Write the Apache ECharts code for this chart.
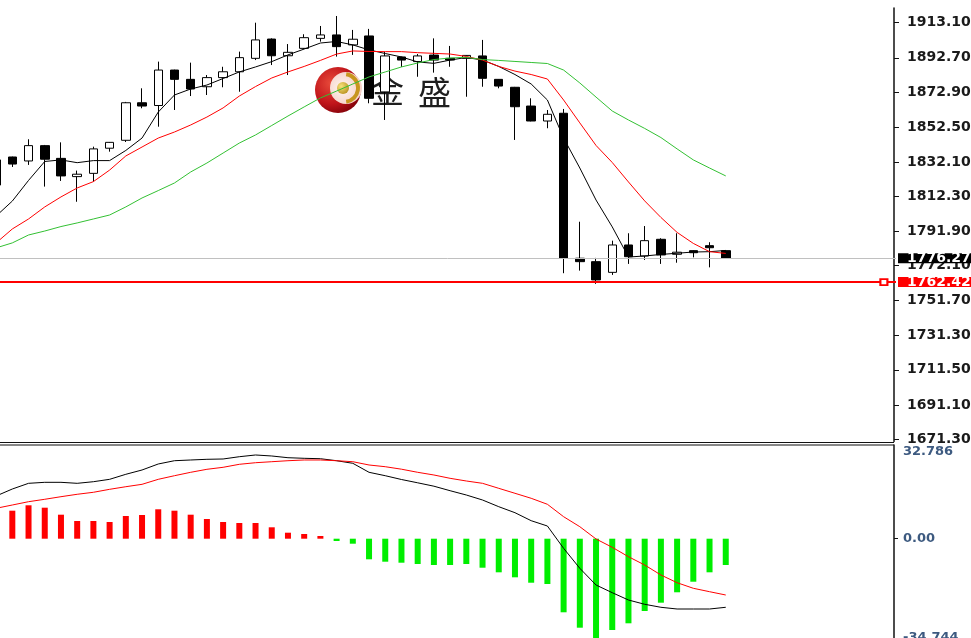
<!DOCTYPE html>
<html><head><meta charset="utf-8">
<script src="https://cdn.jsdelivr.net/npm/echarts@6/dist/echarts.min.js"></script>
<style>html,body{margin:0;padding:0;background:#fff}#c{width:971px;height:638px}</style>
</head><body><div id="c"></div>
<script>
// ---------- DATA ----------
const categories = ['1','2','3','4','5','6','7','8','9','10','11','12','13','14','15','16','17','18','19','20','21','22','23','24','25','26','27','28','29','30','31','32','33','34','35','36','37','38','39','40','41','42','43','44','45','46'];
const candleOpen  = [1818.8,1835.1,1832.8,1841.7,1834.3,1823.7,1825.6,1840.2,1844.8,1866.6,1865.0,1885.6,1880.2,1875.9,1881.2,1884.6,1892.4,1903.6,1893.9,1898.2,1904.0,1906.0,1900.2,1905.4,1872.9,1893.2,1890.5,1894.3,1892.4,1892.4,1893.8,1880.2,1875.6,1864.7,1856.0,1860.5,1776.3,1774.3,1768.1,1784.0,1777.6,1787.3,1778.6,1780.7,1783.6,1780.7];
const candleClose = [1833.4,1831.0,1841.7,1833.8,1824.1,1825.1,1839.8,1843.6,1866.6,1864.7,1885.6,1880.2,1874.6,1881.2,1884.6,1892.8,1903.1,1893.9,1895.9,1904.4,1906.0,1899.2,1903.5,1869.2,1893.8,1891.4,1893.8,1891.4,1891.4,1894.1,1880.8,1876.3,1864.3,1856.0,1859.9,1776.3,1774.3,1763.7,1784.0,1777.2,1786.5,1778.2,1779.8,1779.5,1782.4,1776.27];
const candleLow   = [1814.2,1829.3,1830.5,1817.9,1821.2,1809.1,1820.8,1838.2,1843.8,1863.4,1852.7,1862.4,1870.5,1871.1,1875.6,1873.0,1891.4,1888.5,1882.7,1897.8,1902.1,1893.4,1894.4,1866.3,1856.6,1887.4,1881.7,1884.1,1887.5,1870.1,1875.9,1875.0,1845.0,1855.8,1851.8,1767.6,1769.1,1761.4,1766.6,1773.0,1775.3,1773.0,1773.7,1776.8,1771.0,1776.1];
const candleHigh  = [1835.1,1835.3,1845.4,1842.1,1843.6,1827.2,1841.1,1843.8,1867.1,1875.0,1890.5,1885.8,1889.9,1882.7,1887.5,1896.3,1913.1,1904.0,1900.7,1906.4,1911.2,1917.0,1908.9,1909.5,1896.1,1893.4,1894.9,1904.0,1899.6,1894.3,1903.1,1880.4,1875.8,1869.2,1862.4,1863.0,1797.5,1776.5,1786.5,1790.8,1795.0,1787.9,1790.8,1780.9,1785.6,1781.1];
const ma5  = [1800.8,1809.5,1821.5,1832.5,1833.4,1831.8,1833.0,1833.0,1838.9,1846.1,1861.2,1871.1,1874.6,1876.9,1880.7,1884.5,1887.4,1890.5,1894.4,1897.8,1901.3,1902.2,1900.2,1897.3,1895.2,1893.2,1890.3,1889.5,1891.4,1892.9,1891.4,1887.7,1883.0,1877.5,1868.2,1846.1,1828.7,1810.1,1794.5,1777.0,1777.6,1778.5,1779.2,1779.9,1780.1,1780.8];
const ma10 = [1785.2,1793.3,1799.1,1806.1,1811.9,1817.1,1820.8,1827.5,1835.7,1840.9,1846.1,1849.6,1853.7,1858.3,1863.6,1870.5,1876.0,1881.0,1884.5,1887.7,1891.2,1894.9,1896.7,1896.4,1896.3,1896.3,1895.7,1895.3,1894.9,1893.5,1891.4,1887.7,1885.0,1883.0,1880.4,1868.2,1854.9,1841.8,1831.9,1820.6,1809.6,1800.0,1791.3,1784.9,1780.1,1779.1];
const ma20 = [1782.3,1785.2,1789.8,1792.1,1794.7,1796.8,1799.1,1801.4,1806.1,1811.3,1815.6,1820.0,1826.4,1831.6,1837.4,1843.2,1847.9,1853.4,1858.9,1864.2,1869.4,1873.4,1877.5,1881.6,1884.5,1887.4,1889.7,1891.7,1892.6,1893.0,1891.7,1891.2,1890.6,1890.0,1889.4,1885.6,1878.1,1869.9,1861.8,1856.6,1851.7,1846.4,1839.8,1833.4,1828.7,1824.1];
const macdHist = [null,9.80,11.69,10.85,8.40,6.19,6.19,5.84,7.94,8.29,10.29,9.80,8.40,6.89,5.84,5.49,5.49,3.99,2.10,1.64,0.94,-0.80,-1.75,-7.21,-8.05,-8.40,-8.85,-9.20,-9.20,-8.85,-10.15,-11.76,-13.51,-15.40,-15.85,-25.75,-31.14,-35.50,-31.95,-29.60,-25.30,-22.39,-18.75,-15.05,-11.76,-9.20];
const macdMain = [14.94,17.39,19.38,19.73,19.73,19.38,19.94,20.78,22.53,24.04,26.14,27.29,27.54,27.78,27.89,28.69,29.29,28.94,28.34,28.13,27.99,27.29,26.38,23.23,22.04,20.71,19.56,18.37,16.79,15.29,13.54,11.20,9.10,6.30,4.44,-3.36,-10.36,-16.20,-18.89,-21.45,-22.95,-24.00,-24.60,-24.60,-24.60,-24.00];
const macdSignal = [10.64,11.79,12.95,13.79,14.70,15.54,16.24,17.28,18.19,19.03,20.78,22.04,23.23,24.28,24.98,26.03,26.59,26.94,27.29,27.54,27.54,27.29,26.94,25.79,25.19,24.32,23.23,22.29,21.13,20.19,19.38,17.63,15.89,14.14,12.04,7.70,4.20,-0.10,-3.01,-6.30,-9.20,-12.70,-15.40,-17.35,-18.54,-19.70];
const priceTickLabels = ['1913.10','1892.70','1872.90','1852.50','1832.10','1812.30','1791.90','1772.10','1751.70','1731.30','1711.50','1691.10','1671.30'];
const macdTickLabels = ['32.786','0.00','-34.744'];
const lastPrice = 1776.27;
const supportPrice = 1762.42;

// ---------- CHART ----------
const priceTickValues = priceTickLabels.map(Number);
const macdTickValues = macdTickLabels.map(Number);
const N_SLOTS = 56;
const xCats = categories.concat(Array(N_SLOTS - categories.length).fill(''));
const candleData = candleOpen.map((o, i) => [o, candleClose[i], candleLow[i], candleHigh[i]]);
const FONT = 'DejaVu Sans';

const chart = echarts.init(document.getElementById('c'), null, {renderer: 'canvas'});
const option = {
  animation: false,
  backgroundColor: '#ffffff',
  grid: [
    {left: -12, right: 75, top: 8, height: 433.5, containLabel: false, outerBoundsMode: 'none'},
    {left: -12, right: 75, top: 445, height: 193, containLabel: false, outerBoundsMode: 'none'}
  ],
  xAxis: [
    {type: 'category', data: xCats, gridIndex: 0, show: false, boundaryGap: true},
    {type: 'category', data: xCats, gridIndex: 1, show: false, boundaryGap: true}
  ],
  yAxis: [
    {
      gridIndex: 0, type: 'value', position: 'right', offset: -2,
      min: 1669.85, max: 1921.64,
      splitLine: {show: false},
      axisLine: {show: true, lineStyle: {color: '#111', width: 1.5}},
      axisTick: {show: true, length: 5, customValues: priceTickValues, lineStyle: {color: '#111', width: 1}},
      axisLabel: {
        customValues: priceTickValues, margin: 13,
        color: '#1a1a1a', fontFamily: FONT, fontWeight: 'bold', fontSize: 14,
        formatter: function (v) {
          let best = 0;
          priceTickValues.forEach((t, i) => { if (Math.abs(t - v) < Math.abs(priceTickValues[best] - v)) best = i; });
          return priceTickLabels[best];
        }
      }
    },
    {
      gridIndex: 1, type: 'value', position: 'right', offset: -2,
      min: macdTickValues[2], max: macdTickValues[0],
      splitLine: {show: false},
      axisLine: {show: true, lineStyle: {color: '#111', width: 1.5}},
      axisTick: {show: true, length: 4, customValues: [0], lineStyle: {color: '#111'}},
      axisLabel: {
        customValues: macdTickValues, margin: 9,
        color: '#3d5a80', fontFamily: FONT, fontWeight: 'bold', fontSize: 13,
        formatter: function (v) {
          let best = 0;
          macdTickValues.forEach((t, i) => { if (Math.abs(t - v) < Math.abs(macdTickValues[best] - v)) best = i; });
          if (best === 0) return '{t|' + macdTickLabels[0] + '}';
          return macdTickLabels[best];
        },
        rich: {t: {padding: [14, 0, 0, 0], color: '#3d5a80', fontFamily: FONT, fontWeight: 'bold', fontSize: 13}}
      }
    }
  ],
  graphic: [
    {type: 'line', silent: true, z: 5, shape: {x1: 0, y1: 442.5, x2: 894, y2: 442.5}, style: {stroke: '#111', lineWidth: 1}},
    {type: 'line', silent: true, z: 5, shape: {x1: 0, y1: 445, x2: 894, y2: 445}, style: {stroke: '#111', lineWidth: 1}},
    {type: 'circle', silent: true, z: 1, shape: {cx: 338, cy: 90, r: 23},
      style: {fill: new echarts.graphic.RadialGradient(0.35, 0.35, 0.75, [{offset: 0, color: '#e84a3a'}, {offset: 0.6, color: '#c0141a'}, {offset: 1, color: '#7a0008'}])}},
    {type: 'circle', silent: true, z: 1, shape: {cx: 346, cy: 88, r: 16},
      style: {fill: new echarts.graphic.RadialGradient(0.4, 0.5, 0.7, [{offset: 0, color: '#fff6f0'}, {offset: 1, color: '#f3c9c0'}])}},
    {type: 'arc', silent: true, z: 1, shape: {cx: 344, cy: 88, r: 14, startAngle: -Math.PI * 0.45, endAngle: Math.PI * 0.45, clockwise: true},
      style: {stroke: '#c8961e', lineWidth: 4, fill: null}},
    {type: 'circle', silent: true, z: 1, shape: {cx: 343, cy: 88, r: 6},
      style: {fill: new echarts.graphic.RadialGradient(0.35, 0.35, 0.8, [{offset: 0, color: '#f7e27a'}, {offset: 1, color: '#b48a16'}])}},
    {type: 'text', silent: true, z: 1, left: 371, top: 74, style: {text: '金', font: '33px "Noto Sans CJK SC"', fill: '#1e1e1e'}},
    {type: 'text', silent: true, z: 1, left: 418, top: 76, style: {text: '盛', font: '33px "Noto Sans CJK SC"', fill: '#1e1e1e'}}
  ],
  series: [
    {
      name: 'price', type: 'candlestick', xAxisIndex: 0, yAxisIndex: 0, data: candleData,
      barWidth: 9, z: 3,
      itemStyle: {color: '#ffffff', color0: '#000000', borderColor: '#000000', borderColor0: '#000000', borderWidth: 1},
      markLine: {
        silent: true, symbol: ['none', 'none'], animation: false,
        data: [
          {yAxis: lastPrice, lineStyle: {color: '#c0c0c0', width: 1, type: 'solid'},
            label: {show: true, position: 'end', distance: 2, formatter: p => p.value.toFixed(2), backgroundColor: '#000', color: '#fff',
              fontFamily: FONT, fontWeight: 'bold', fontSize: 14, lineHeight: 10, padding: [0, 6, 0, 9]}},
          {yAxis: supportPrice, lineStyle: {color: '#ff0000', width: 2, type: 'solid'},
            label: {show: true, position: 'end', distance: 2, formatter: p => p.value.toFixed(2), backgroundColor: '#ff0000', color: '#fff',
              fontFamily: FONT, fontWeight: 'bold', fontSize: 14, lineHeight: 10, padding: [0, 6, 0, 9]}}
        ]
      },
      markPoint: {
        silent: true, animation: false,
        data: [{coord: [55, supportPrice], symbol: 'rect', symbolSize: [7, 6], symbolOffset: [-4, 0],
          itemStyle: {color: '#ffffff', borderColor: '#ff0000', borderWidth: 2}, label: {show: false}}]
      }
    },
    {name: 'MA5', type: 'line', xAxisIndex: 0, yAxisIndex: 0, data: ma5, showSymbol: false, z: 4, lineStyle: {color: '#000', width: 1}},
    {name: 'MA10', type: 'line', xAxisIndex: 0, yAxisIndex: 0, data: ma10, showSymbol: false, z: 4, lineStyle: {color: '#ff0000', width: 1}},
    {name: 'MA20', type: 'line', xAxisIndex: 0, yAxisIndex: 0, data: ma20, showSymbol: false, z: 4, lineStyle: {color: '#33c033', width: 1}},
    {name: 'hist', type: 'bar', xAxisIndex: 1, yAxisIndex: 1, data: macdHist, barWidth: 6,
      itemStyle: {color: p => (p.value >= 0 ? '#ff0000' : '#00ee00')}},
    {name: 'macd', type: 'line', xAxisIndex: 1, yAxisIndex: 1, data: macdMain, showSymbol: false, z: 4, lineStyle: {color: '#000', width: 1}},
    {name: 'signal', type: 'line', xAxisIndex: 1, yAxisIndex: 1, data: macdSignal, showSymbol: false, z: 4, lineStyle: {color: '#ff0000', width: 1}}
  ]
};
chart.setOption(option);
</script>
</body></html>
